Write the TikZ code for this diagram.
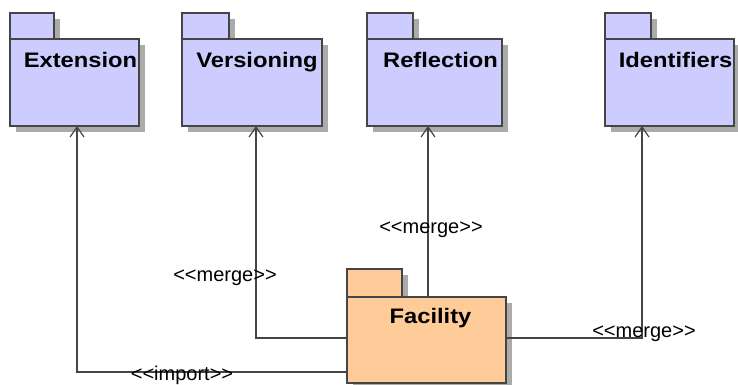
\documentclass[tikz,border=0pt]{standalone}
\usepackage{fontspec}
\setmainfont[Ligatures=NoCommon]{Liberation Sans}
\newfontfamily\pkgfont[FakeStretch=1.13]{Liberation Sans}
\usepackage{tikz}
\usetikzlibrary{arrows.meta}
\usetikzlibrary{shadows}
\usetikzlibrary{positioning}

\definecolor{pkgblue}{HTML}{CCCCFF}
\definecolor{pkgorange}{HTML}{FFCC99}
\definecolor{pkgline}{HTML}{454545}
\definecolor{pkgshadow}{HTML}{ABABAB}

\newcommand{\stereotype}[1]{<{}<#1>{}>}

\begin{document}
\begin{tikzpicture}[x=1pt, y=-1pt,
		pkg/.style={draw=pkgline, line width=1.4pt, fill=pkgblue, inner sep=0pt, outer sep=0pt,
			anchor=north west, minimum height=87pt,
			general shadow={fill=pkgshadow, shadow xshift=6pt, shadow yshift=-6pt}},
		pkgtab/.style={pkg, minimum height=26pt},
		pkgname/.style={font=\pkgfont\fontsize{21}{25}\selectfont\bfseries, inner sep=0pt, anchor=base},
		stereo/.style={font=\fontsize{20}{24}\selectfont, inner sep=0pt},
		dep/.style={draw=pkgline, line width=1.2pt, -{Straight Barb[length=10pt, width=14pt]}}
	]
	\useasboundingbox (0,0) rectangle (738,385);

	% packages on top
	\node[pkgtab, minimum width=44pt] (ext-tab) at (10,13) {};
	\node[pkg, minimum width=129pt] (ext) at (ext-tab.south west) {};
	\node[pkgname] (ext-name) at ([xshift=6pt, yshift=-29pt]ext.north) {Extension};

	\node[pkgtab, minimum width=47pt] (ver-tab) at (182,13) {};
	\node[pkg, minimum width=140pt] (ver) at (ver-tab.south west) {};
	\node[pkgname] (ver-name) at ([xshift=5pt, yshift=-29pt]ver.north) {Versioning};

	\node[pkgtab, minimum width=46pt] (ref-tab) at (367,13) {};
	\node[pkg, minimum width=135pt] (ref) at (ref-tab.south west) {};
	\node[pkgname] (ref-name) at ([xshift=6pt, yshift=-29pt]ref.north) {Reflection};

	\node[pkgtab, minimum width=46pt] (ids-tab) at (605,13) {};
	\node[pkg, minimum width=129pt] (ids) at (ids-tab.south west) {};
	\node[pkgname] (ids-name) at ([xshift=6pt, yshift=-29pt]ids.north) {Identifiers};

	% facility
	\node[pkgtab, fill=pkgorange, minimum width=55pt, minimum height=28pt] (fac-tab) at (347,269) {};
	\node[pkg, fill=pkgorange, minimum width=159pt, minimum height=86pt] (fac) at (fac-tab.south west) {};
	\node[pkgname] (fac-name) at ([xshift=4pt, yshift=-26pt]fac.north) {Facility};

	% dependencies
	\draw[dep] ([yshift=-32pt]fac.west) -| ([xshift=67pt]ext.south west);
	\draw[dep] ([yshift=2pt]fac.west) -| ([xshift=74pt]ver.south west);
	\draw[dep] ([xshift=1.5pt]fac.north) -- ([xshift=1.5pt]fac.north |- ref.south);
	\draw[dep] ([yshift=2pt]fac.east) -| ([xshift=37pt]ids.south west);

	\node[stereo] (ext-lbl) at (182,375) {\stereotype{import}};
	\node[stereo] (ver-lbl) at (225,278) {\stereotype{merge}};
	\node[stereo] (ref-lbl) at (431,230) {\stereotype{merge}};
	\node[stereo] (ids-lbl) at (644,334) {\stereotype{merge}};
\end{tikzpicture}
\end{document}
